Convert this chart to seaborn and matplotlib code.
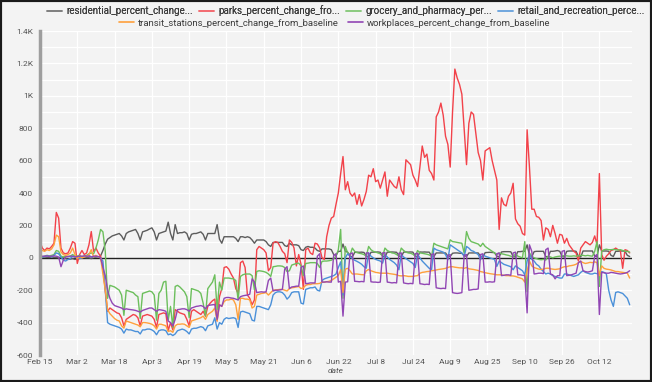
import pandas as pd
import matplotlib
matplotlib.use("Agg")
import matplotlib.pyplot as plt
from matplotlib.lines import Line2D
from matplotlib.patches import Rectangle
from matplotlib.ticker import FuncFormatter, MultipleLocator
import seaborn as sns

start_date = "2020-02-15"

# daily values, one week (Sat..Fri) per line
residential = [
    0, 3, 5, 3, 2, 5, 3,          2, 0, 5, 3, -5, -10, -8,
    -5, -10, -5, -3, 0, 2, 0,     0, -5, 2, 5, 5, 12, 45,
    85, 115, 125, 135, 140, 145, 150,   135, 110, 150, 160, 165, 170, 175,
    150, 110, 160, 165, 170, 178, 185,  160, 110, 150, 155, 160, 165, 220,
    150, 110, 205, 150, 155, 155, 160,  150, 110, 145, 150, 150, 155, 160,
    145, 110, 150, 150, 150, 150, 205,  115, 90, 130, 130, 130, 130, 130,
    120, 100, 130, 130, 125, 130, 125,  110, 90, 110, 110, 110, 110, 100,
    80, 70, 95, 95, 95, 95, 95,         75, 70, 90, 80, 80, 80, 75,
    50, 45, 65, 70, 65, 65, 60,         45, 40, 55, 55, 55, 55, 50,
    20, 15, 40, 40, 85, 40, 35,         10, 5, 33, 35, 34, 35, 33,
    10, 5, 34, 35, 35, 36, 34,          10, 5, 35, 35, 36, 35, 34,
    10, 6, 35, 36, 35, 36, 35,          10, 5, 36, 35, 36, 35, 35,
    12, 8, 30, 30, 30, 30, 30,          10, 8, 28, 30, 30, 28, 28,
    15, 8, 30, 30, 30, 30, 30,          10, 5, 32, 33, 34, 33, 32,
    10, 5, 36, 38, 38, 38, 37,          8, 5, 38, 38, 40, 40, 80,
    15, 5, 38, 40, 40, 40, 40,          8, 5, 40, 40, 42, 45, 40,
    8, 5, 40, 42, 42, 42, 40,           10, 5, 42, 42, 42, 42, 42,
    10, 8, 80, 42, 42, 42, 40,          15, 8, 40, 40, 42, 42, 40,
    15, 8,
]

parks = [
    100, 60, 45, 60, 55, 70, 90,        280, 245, 60, 30, 25, 30, 60,
    100, 90, -35, 20, 45, 20, 30,       80, 162, 40, 60, 30, 10, -60,
    -200, -330, -310, -320, -330, -340, -345,  -370, -420, -380, -370, -360, -350, -355,
    -370, -420, -360, -355, -350, -355, -360,  -380, -430, -350, -345, -340, -345, -450,
    -400, -445, -320, -330, -340, -345, -350,  -380, -420, -330, -320, -330, -340, -350,
    -330, -360, -300, -280, -265, -255, -390,  -240, -190, -60, -55, -70, -100, -125,
    -190, -220, -30, -20, -60, -230, -250,     -290, -260, 50, 70, 60, 50, 30,
    -80, -60, 90, 100, 95, 70, 40,      25, -30, 110, 95, 60, -50, 20,
    -40, -195, 50, 60, 30, 20, 90,      85, 60, 0, -10, 130, 200, 245,
    255, 330, 400, 520, 625, 420, 470,  400, 380, 400, 330, 390, 320, 360,
    410, 510, 500, 550, 470, 480, 430,  480, 530, 380, 480, 460, 440, 430,
    500, 420, 390, 605, 590, 575, 510,  480, 440, 560, 690, 620, 640, 540,
    520, 480, 870, 900, 955, 880, 750,  700, 560, 900, 1165, 1110, 1070, 1010,
    790, 575, 830, 900, 885, 770, 650,  600, 480, 660, 670, 680, 600, 540,
    480, 175, 370, 330, 320, 380, 400,  460, 240, 210, 195, 150, 140, 790,
    560, 300, 300, 255, 250, 230, 110,  185, 175, 130, 200, 150, 90, 145,
    140, 90, 120, 80, 60, 40, 30,       -20, 60, 80, 100, 90, 80, 95,
    135, 80, 520, 20, -15, 10, 25,      45, 50, 60, 50, 45, -65, 50,
    45, 30,
]

grocery = [
    15, 5, 10, 15, 12, 15, 20,          45, 40, 10, 5, 10, 8, 10,
    20, 10, 10, 15, 5, 10, 15,          25, 30, 25, 60, 110, 175, 160,
    40, -250, -170, -175, -180, -190, -200,    -230, -355, -200, -205, -210, -215, -230,
    -240, -375, -220, -215, -210, -205, -210,  -230, -385, -220, -200, -150, -145, -385,
    -300, -430, -177, -170, -180, -195, -210,  -240, -370, -190, -195, -200, -205, -220,
    -280, -360, -190, -170, -150, -105, -320,  -150, -200, -125, -125, -125, -128, -130,
    -140, -260, -115, -105, -100, -100, -100,  -110, -197, -84, -80, -82, -85, -90,
    -100, -115, -55, -53, -50, -50, -52,       -60, -85, -80, -45, -40, -35, -33,
    -50, -110, -35, -33, -30, -30, -30,        -35, -60, -22, -20, -20, -18, -15,
    -5, 10, 50, 175, -250, 70, 30,      15, 60, 40, 32, 28, 25, 20,
    10, 70, 50, 40, 35, 30, 25,         10, 60, 45, 38, 30, 28, 20,
    10, 60, 45, 35, 30, 28, 22,         10, 45, 30, 28, 25, 22, 18,
    8, 90, 80, 75, 70, 65, 60,          55, 111, 100, 98, 95, 92, 90,
    29, 162, 120, 100, 95, 90, 85,      70, 90, 70, 60, 50, 40, 30,
    20, 30, 25, 22, 18, 15, 10,         5, 25, 10, 5, 0, 100, -210,
    30, 10, 0, -5, -10, -12, -10,       -14, 10, 5, 0, 5, 8, 10,
    10, 15, 12, 10, 10, 12, 10,         12, 15, 15, 12, 15, 12, 10,
    40, 100, -177, 40, 50, 53, 50,      50, 52, 50, 48, 50, 45, 40,
    40, 35,
]

retail = [
    10, 5, 8, 12, 10, 5, 15,            30, 25, 5, -15, -20, -10, -5,
    10, 5, 0, -5, 0, 5, 10,             15, 5, 5, 10, 5, 0, -20,
    -200, -400, -410, -415, -420, -425, -430,  -440, -465, -440, -445, -445, -450, -455,
    -455, -470, -445, -445, -440, -440, -445,  -455, -475, -450, -445, -445, -450, -475,
    -470, -480, -470, -450, -445, -440, -445,  -455, -470, -440, -435, -435, -430, -425,
    -430, -450, -420, -415, -410, -370, -440,  -400, -410, -380, -370, -375, -372, -370,
    -375, -430, -335, -330, -335, -340, -345,  -385, -390, -300, -300, -305, -310, -315,
    -320, -290, -230, -215, -210, -210, -215,  -230, -255, -240, -215, -210, -210, -210,
    -280, -285, -195, -190, -185, -185, -180,  -200, -205, -140, -130, -125, -120, -115,
    -110, -100, -60, -25, -230, 0, 25,  10, -5, -15, -22, -30, -40, -55,
    -64, 30, 10, 0, -10, -15, -20,      -33, 20, 5, -10, -20, -30, -45,
    -74, 20, 5, -5, -15, -25, -35,      -60, 20, 0, -20, -35, -50, -65,
    -74, 60, 50, 45, 40, 35, 20,        -12, 80, 70, 60, 50, 40, 30,
    8, 70, 60, 45, 40, 30, 20,          -12, 20, 10, 5, 0, -5, -10,
    -53, -20, -30, -40, -45, -50, -55,  -74, -50, -60, -70, -80, -105, -20,
    20, -10, -20, -40, -50, -70, -85,   -100, -95, -100, -110, -115, -120, -125,
    -125, -100, -100, -105, -110, -115, -110,  -105, -90, -80, -90, -95, -100, -100,
    -95, -98, -100, -85, -90, -100, -200,      -260, -300, -214, -210, -215, -220, -235,
    -250, -290,
]

transit = [
    55, 45, 40, 50, 45, 55, 80,         140, 130, 35, 20, 15, 20, 30,
    60, 20, -5, 10, 0, 5, 10,           20, 50, 5, 15, 5, 0, -100,
    -200, -320, -345, -360, -375, -385, -390,  -420, -434, -390, -395, -400, -405, -410,
    -415, -426, -400, -400, -402, -405, -410,  -420, -440, -410, -410, -415, -420, -455,
    -450, -460, -420, -410, -410, -408, -410,  -420, -430, -390, -385, -380, -375, -370,
    -360, -380, -350, -340, -330, -310, -390,  -290, -300, -270, -260, -260, -255, -260,
    -290, -380, -250, -250, -255, -255, -260,  -310, -300, -230, -225, -220, -218, -215,
    -230, -215, -200, -198, -197, -195, -195,  -200, -205, -190, -185, -183, -180, -177,
    -190, -185, -170, -165, -165, -160, -160,  -160, -158, -150, -150, -148, -145, -140,
    -130, -120, -110, -74, -215, -70, -65,     -80, -100, -100, -100, -102, -104, -105,
    -80, -72, -80, -85, -90, -92, -95,         -95, -95, -95, -98, -100, -102, -105,
    -110, -112, -110, -112, -115, -115, -115,  -112, -110, -95, -90, -88, -85, -84,
    -80, -78, -75, -72, -70, -68, -65,         -60, -55, -55, -58, -60, -62, -62,
    -65, -60, -68, -70, -72, -75, -78,         -85, -88, -92, -95, -98, -100, -102,
    -105, -105, -105, -108, -110, -110, -112,  -112, -115, -120, -125, -130, -150, -80,
    -20, -50, -60, -65, -70, -72, -70,         -65, -64, -68, -70, -72, -70, -68,
    -60, -55, -55, -50, -48, -45, -40,         -30, -22, -30, -35, -32, -28, -30,
    -25, -30, -110, -50, -65, -70, -72,        -75, -80, -85, -85, -88, -90, -92,
    -95, -125,
]

workplaces = [
    5, 10, 10, 12, 8, 10, 12,           10, 5, -55, -15, 5, 8, 10,
    10, 5, 8, 10, 10, 12, 10,           10, 5, 10, 10, 8, 0, -60,
    -110, -200, -250, -280, -295, -300, -305,  -310, -320, -315, -318, -320, -322, -325,
    -330, -335, -325, -320, -315, -310, -310,  -320, -330, -320, -322, -325, -330, -390,
    -400, -420, -380, -320, -318, -315, -315,  -320, -330, -310, -305, -300, -298, -295,
    -300, -315, -295, -292, -290, -288, -380,  -290, -300, -250, -245, -245, -248, -250,
    -255, -260, -240, -235, -232, -230, -225,  -130, -150, -215, -212, -210, -212, -210,
    -140, -125, -205, -200, -200, -198, -195,  -70, -55, -190, -180, -178, -175, -175,
    -60, -50, -160, -158, -155, -155, -155,    10, 25, -150, -150, -148, -150, -150,
    15, 25, -150, -145, -360, -150, -148,      25, 30, -145, -146, -148, -146, -148,
    30, 30, -148, -150, -150, -152, -150,      30, 32, -150, -152, -155, -153, -155,
    28, 30, -155, -158, -160, -158, -160,      25, 28, -160, -162, -165, -163, -165,
    20, 25, -185, -188, -190, -188, -190,      15, 20, -215, -218, -220, -218, -215,
    15, 20, -200, -198, -195, -195, -192,      20, 25, -150, -150, -148, -150, -148,
    25, 30, -110, -108, -105, -105, -108,      30, 35, -105, -105, -108, -110, -340,
    80, 40, -100, -98, -95, -95, -98,          50, 60, -100, -105, -130, -110, -110,
    40, 45, -110, -108, -105, -100, -95,       -30, -20, -80, -85, -88, -85, -80,
    10, 20, -350, -90, -92, -95, -95,          -90, -92, -95, -98, -100, -98, -95,
    -90, -80,
]

series_names = [
    "residential_percent_change_from_baseline",
    "parks_percent_change_from_baseline",
    "grocery_and_pharmacy_percent_change_from_baseline",
    "retail_and_recreation_percent_change_from_baseline",
    "transit_stations_percent_change_from_baseline",
    "workplaces_percent_change_from_baseline",
]
legend_labels = [
    "residential_percent_change...",
    "parks_percent_change_fro...",
    "grocery_and_pharmacy_per...",
    "retail_and_recreation_perce...",
    "transit_stations_percent_change_from_baseline",
    "workplaces_percent_change_from_baseline",
]
colors = ["#5c5c5c", "#f2424a", "#6cbf5c", "#4a90d9", "#ffa03c", "#9146b4"]

dates = pd.date_range(start_date, periods=len(residential), freq="D")
df = pd.DataFrame({
    "date": dates,
    series_names[0]: residential,
    series_names[1]: parks,
    series_names[2]: grocery,
    series_names[3]: retail,
    series_names[4]: transit,
    series_names[5]: workplaces,
})
long_df = df.melt(id_vars="date", var_name="series", value_name="value")

sns.set_theme(style="white")
plt.rcParams["font.family"] = ["Roboto", "DejaVu Sans"]

bg = "#f3f3f3"
fig = plt.figure(figsize=(6.52, 3.82), dpi=100, facecolor=bg)
ax = fig.add_axes([40 / 652, 1 - 355 / 382, 592 / 652, 324 / 382])
ax.set_facecolor(bg)

sns.lineplot(
    data=long_df,
    x="date",
    y="value",
    hue="series",
    hue_order=series_names,
    palette=colors,
    linewidth=1.0,
    estimator=None,
    legend=False,
    ax=ax
)

ax.axhline(0, color="#222222", lw=1.0, zorder=1.8)

ax.set_xlim(dates[0], dates[0] + pd.Timedelta(days=254))
ax.set_ylim(-600, 1400)

tick_dates = pd.date_range(start_date, periods=16, freq="16D")
ax.set_xticks(tick_dates)
ax.set_xticklabels([f"{d:%b} {d.day}" for d in tick_dates])


def fmt_k(v, pos):
    if abs(v) >= 1000:
        return f"{v / 1000:g}K"
    return f"{v:.0f}"


ax.yaxis.set_major_locator(MultipleLocator(200))
ax.yaxis.set_minor_locator(MultipleLocator(100))
ax.yaxis.set_major_formatter(FuncFormatter(fmt_k))

ax.grid(which="both", axis="y", color="white", lw=0.9, zorder=0)
ax.grid(which="major", axis="x", color="white", lw=0.9, zorder=0)
ax.set_axisbelow(True)

ax.tick_params(axis="both", which="both", length=0, labelsize=6, colors="#555555")
ax.tick_params(axis="x", pad=3)
ax.tick_params(axis="y", pad=5)

for side in ["top", "right", "bottom"]:
    ax.spines[side].set_visible(False)
ax.spines["left"].set_color("#9e9e9e")
ax.spines["left"].set_linewidth(2.5)

ax.set_xlabel("date", fontsize=6, style="italic", color="#555555", labelpad=2)
ax.set_ylabel("")

handles = [Line2D([0], [0], color=c, lw=1.2) for c in colors]
for h in handles[:4]:
    h.set_alpha(0.6)

leg1 = fig.legend(
    handles[:4], legend_labels[:4],
    loc="center", bbox_to_anchor=(0.530, 1 - 11 / 382),
    ncol=4, frameon=False, fontsize=7,
    handlelength=1.6, handletextpad=0.4, columnspacing=0.6
)
for t in leg1.get_texts():
    t.set_color("#3c3c3c")
fig.add_artist(leg1)

leg2 = fig.legend(
    handles[4:], legend_labels[4:],
    loc="center", bbox_to_anchor=(0.513, 1 - 23 / 382),
    ncol=2, frameon=False, fontsize=6.8,
    handlelength=1.6, handletextpad=0.4, columnspacing=1.0
)
for t in leg2.get_texts():
    t.set_color("#3c3c3c")

fig.patches.append(Rectangle(
    (0, 0), 1, 1, transform=fig.transFigure,
    fill=False, edgecolor="#1a1a1a", lw=3
))

fig.savefig("out.png", dpi=100, facecolor=fig.get_facecolor())
plt.close(fig)
